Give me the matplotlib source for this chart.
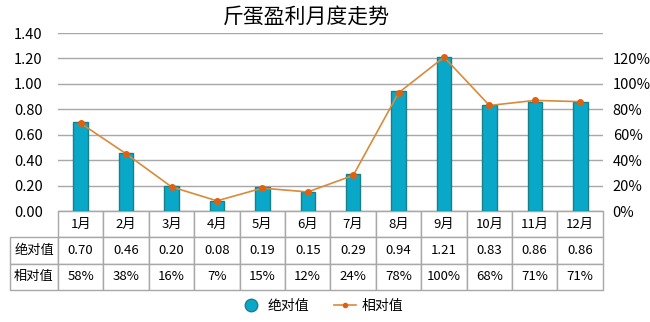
import matplotlib
matplotlib.use('Agg')
import matplotlib.pyplot as plt
from matplotlib.lines import Line2D
import numpy as np

plt.rcParams['font.family'] = ['Noto Sans CJK SC', 'DejaVu Sans']

months = ['1月', '2月', '3月', '4月', '5月', '6月',
          '7月', '8月', '9月', '10月', '11月', '12月']
abs_values = [0.70, 0.46, 0.20, 0.08, 0.19, 0.15,
              0.29, 0.94, 1.21, 0.83, 0.86, 0.86]
rel_labels = ['58%', '38%', '16%', '7%', '15%', '12%',
              '24%', '78%', '100%', '68%', '71%', '71%']
# line points as drawn on the right axis
line_pct = [69, 45, 19, 8, 18, 15, 28, 93, 121, 83, 87, 86]

BAR_COLOR = '#0aa8c8'
BAR_EDGE = '#1a8088'
LINE_COLOR = '#d98a3a'
DOT_COLOR = '#e0600f'
GRID_COLOR = '#a8a8a8'

fig = plt.figure(figsize=(6.5, 3.22), dpi=100)
ax = fig.add_axes([0.0892, 0.3447, 0.8385, 0.5528])
x = np.arange(len(months))

ax.bar(x, abs_values, width=0.32, color=BAR_COLOR, edgecolor=BAR_EDGE,
       linewidth=1.0, zorder=3)
ax.set_xlim(-0.5, len(months) - 0.5)
ax.set_ylim(0, 1.4)
ax.set_yticks(np.arange(0, 1.41, 0.2))
ax.set_yticklabels(['{:.2f}'.format(v) for v in np.arange(0, 1.41, 0.2)])
ax.set_xticks([])
ax.grid(axis='y', color=GRID_COLOR, linewidth=1.0, zorder=0)
ax.tick_params(axis='y', length=0, pad=11, labelsize=10.5)
for side in ['left', 'right', 'top']:
    ax.spines[side].set_visible(False)
ax.spines['bottom'].set_color(GRID_COLOR)

ax2 = ax.twinx()
ax2.plot(x, line_pct, color=LINE_COLOR, linewidth=1.2, marker='o',
         markersize=4, markerfacecolor=DOT_COLOR, markeredgecolor=DOT_COLOR,
         zorder=4)
ax2.set_ylim(0, 140)
ax2.set_yticks(np.arange(0, 121, 20))
ax2.set_yticklabels(['{}%'.format(v) for v in range(0, 121, 20)])
ax2.tick_params(axis='y', length=0, pad=7, labelsize=10.5)
for side in ['left', 'right', 'top', 'bottom']:
    ax2.spines[side].set_visible(False)

fig.text(0.472, 0.948, '斤蛋盈利月度走势', ha='center', va='center',
         fontsize=15, fontweight='medium')

# data table under the axis
cell_text = [[''] + months,
             ['绝对值'] + ['{:.2f}'.format(v) for v in abs_values],
             ['相对值'] + rel_labels]
label_w = 48.0
col_w = 45.4
total_w = label_w + 12 * col_w
col_widths = [label_w / total_w] + [col_w / total_w] * 12
tab = ax.table(cellText=cell_text, colWidths=col_widths, cellLoc='center',
               bbox=[-label_w / 545.0, -0.444, total_w / 545.0, 0.444])
tab.auto_set_font_size(False)
tab.set_fontsize(9.5)
for (r, c), cell in tab.get_celld().items():
    cell.set_edgecolor(GRID_COLOR)
    cell.set_linewidth(1.0)
    if r == 0 and c == 0:
        cell.visible_edges = ''

handles = [
    Line2D([], [], linestyle='none', marker='o', markersize=9,
           markerfacecolor=BAR_COLOR, markeredgecolor=BAR_EDGE),
    Line2D([], [], color=LINE_COLOR, linewidth=1.2, marker='o',
           markersize=3, markerfacecolor=DOT_COLOR,
           markeredgecolor=DOT_COLOR),
]
fig.legend(handles, ['绝对值', '相对值'], loc='center',
           bbox_to_anchor=(0.495, 0.05), ncol=2, frameon=False,
           fontsize=10, handlelength=1.6, handletextpad=0.4,
           columnspacing=1.8)

fig.savefig('out.png', dpi=100)
